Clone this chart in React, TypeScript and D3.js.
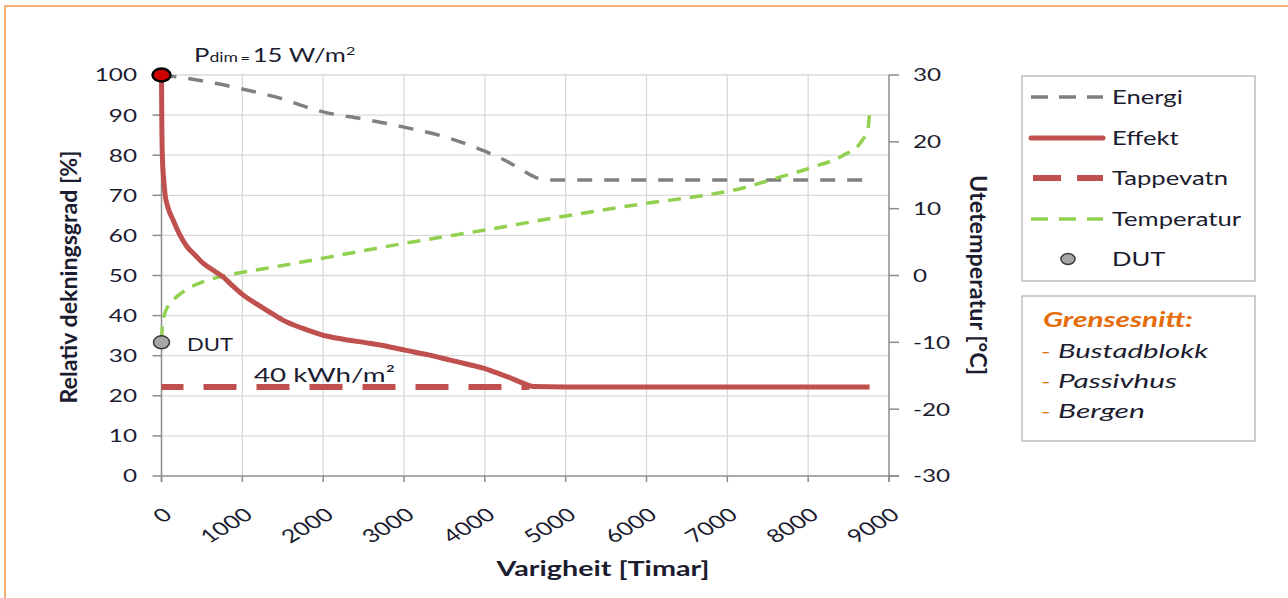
import React from "react";
import * as d3 from "d3";

const W = 1288;
const H = 598;

// ---- data ----
const xTicks = [0, 1000, 2000, 3000, 4000, 5000, 6000, 7000, 8000, 9000];
const yLeftTicks = [0, 10, 20, 30, 40, 50, 60, 70, 80, 90, 100];
const yRightTicks = [-30, -20, -10, 0, 10, 20, 30];

const energiHours = [0, 300, 700, 1000, 1400, 2000, 2500, 3000, 3500, 4000, 4300, 4500, 4650, 4800, 6000, 8760];
const energiPct = [100, 99.2, 97.8, 96.5, 94.6, 90.8, 89, 87, 84.6, 81, 78.2, 75.8, 74.3, 73.8, 73.8, 73.8];

const effektHours = [0, 4, 12, 25, 43, 80, 146, 230, 312, 420, 517, 640, 765, 870, 1000, 1200, 1400, 1550, 1750, 2000, 2250, 2540, 2800, 3010, 3300, 3570, 3800, 3980, 4150, 4300, 4480, 4600, 5000, 6000, 7000, 8000, 8760];
const effektPct = [100, 88, 79, 74.5, 70.4, 67, 63.7, 60, 57.3, 55, 53, 51.3, 49.6, 47.6, 45.3, 42.6, 40.1, 38.4, 36.8, 35.1, 34.1, 33.2, 32.3, 31.4, 30.2, 28.9, 27.8, 26.9, 25.7, 24.6, 23.1, 22.3, 22.2, 22.2, 22.2, 22.2, 22.2];

const tappevatnHours = [0, 4550];
const tappevatnPct = [22.2, 22.2];

const tempHours = [0, 15, 43, 80, 142, 250, 350, 500, 720, 970, 1500, 2000, 3000, 4000, 5000, 6000, 6665, 7197, 7614, 8026, 8435, 8643, 8744, 8760];
const tempC = [-9.6, -7.1, -5.6, -4.6, -3.7, -2.6, -1.8, -1.0, -0.2, 0.4, 1.5, 2.6, 4.8, 6.8, 8.9, 10.8, 11.9, 13.1, 14.6, 16.1, 18.0, 19.8, 22.3, 24.5];

const dutHour = 0;
const dutTemp = -10;
const pdimHour = 0;
const pdimPct = 100;

const legendItems = ["Energi", "Effekt", "Tappevatn", "Temperatur", "DUT"];
const noteTitle = "Grensesnitt:";
const notes = ["Bustadblokk", "Passivhus", "Bergen"];

// ---- style ----
const SX = 1.35;
const FONT = "Lato, 'Open Sans', sans-serif";
const TXT = "#1c1c30";
const RED = "#c0504d";
const GRAY = "#808080";
const GREEN = "#92d050";
const ORANGE = "#e46c0a";
const GRID = "#d9d9d9";
const AXIS = "#8c8c8c";

const plot = { left: 161.5, right: 889, top: 75, bottom: 476 };

function T(props: {
  x: number; y: number; size?: number; anchor?: string; weight?: any; italic?: boolean;
  fill?: string; rotate?: number; children: any; dy?: string; len?: number; sx?: number;
}) {
  const { x, y, size = 18, anchor = "start", weight = "normal", italic = false, fill = TXT, rotate, children, dy, len } = props;
  const sx = props.sx ?? SX;
  return (
    <text
      transform={`translate(${x},${y}) scale(${sx},1)${rotate !== undefined ? ` rotate(${rotate})` : ""}`}
      fontFamily={FONT}
      fontSize={size}
      textAnchor={anchor}
      fontWeight={weight}
      fontStyle={italic ? "italic" : "normal"}
      fill={fill}
      dy={dy}
      textLength={len !== undefined ? len / sx : undefined}
      lengthAdjust={len !== undefined ? "spacingAndGlyphs" : undefined}
    >
      {children}
    </text>
  );
}

export default function App() {
  const x = d3.scaleLinear().domain([0, 9000]).range([plot.left, plot.right]);
  const yL = d3.scaleLinear().domain([0, 100]).range([plot.bottom, plot.top]);
  const yR = d3.scaleLinear().domain([-30, 30]).range([plot.bottom, plot.top]);

  const lineL = d3
    .line<[number, number]>()
    .x((d) => x(d[0]))
    .y((d) => yL(d[1]))
    .curve(d3.curveMonotoneX);
  const lineR = d3
    .line<[number, number]>()
    .x((d) => x(d[0]))
    .y((d) => yR(d[1]))
    .curve(d3.curveMonotoneX);

  const zip = (a: number[], b: number[]) => a.map((v, i) => [v, b[i]] as [number, number]);

  const legX0 = 1031;
  const legX1 = 1103;
  const legY = [97, 138, 178, 219, 259];
  const noteLens = [150, 119, 87];

  return (
    <div style={{ position: "fixed", left: 0, top: 0, width: W, height: H, background: "#fff" }}>
      <svg width={W} height={H} viewBox={`0 0 ${W} ${H}`} style={{ display: "block" }}>
        <rect x={0} y={0} width={W} height={H} fill="#fff" />
        {/* orange frame */}
        <path d={`M5,${H} L5,6 L${W},6`} fill="none" stroke="#f9ae72" strokeWidth={2} />

        {/* grid */}
        {yLeftTicks.filter((t) => t > 0).map((t) => (
          <line key={"gy" + t} x1={plot.left} x2={plot.right} y1={yL(t)} y2={yL(t)} stroke={GRID} strokeWidth={1.3} />
        ))}
        {xTicks.filter((t) => t > 0 && t < 9000).map((t) => (
          <line key={"gx" + t} x1={x(t)} x2={x(t)} y1={plot.top} y2={plot.bottom} stroke={GRID} strokeWidth={1.3} />
        ))}

        {/* axes */}
        <line x1={plot.left} x2={plot.left} y1={plot.top} y2={plot.bottom + 6} stroke={AXIS} strokeWidth={1.5} />
        <line x1={plot.right} x2={plot.right} y1={plot.top} y2={plot.bottom + 6} stroke={AXIS} strokeWidth={1.5} />
        <line x1={plot.left} x2={plot.right + 10} y1={plot.bottom} y2={plot.bottom} stroke={AXIS} strokeWidth={1.5} />
        {yLeftTicks.map((t) => (
          <line key={"tl" + t} x1={plot.left - 9} x2={plot.left} y1={yL(t)} y2={yL(t)} stroke={AXIS} strokeWidth={1.5} />
        ))}
        {yRightTicks.map((t) => (
          <line key={"tr" + t} x1={plot.right} x2={plot.right + 10} y1={yR(t)} y2={yR(t)} stroke={AXIS} strokeWidth={1.5} />
        ))}
        {xTicks.map((t) => (
          <line key={"tx" + t} x1={x(t)} x2={x(t)} y1={plot.bottom} y2={plot.bottom + 6} stroke={AXIS} strokeWidth={1.5} />
        ))}

        {/* tick labels */}
        {yLeftTicks.map((t) => (
          <T key={"ll" + t} x={137} y={yL(t)} anchor="end" dy="0.36em">{t}</T>
        ))}
        {yRightTicks.map((t) => (
          <T key={"rl" + t} x={913} y={yR(t)} anchor="start" dy="0.36em">{t}</T>
        ))}
        {xTicks.map((t) => (
          <T key={"xl" + t} x={x(t) + 1} y={507} anchor="end" rotate={-39} dy="0.7em" size={18.5}>{t}</T>
        ))}

        {/* axis titles */}
        <T x={77} y={277} anchor="middle" weight="bold" size={22} rotate={-90} sx={1} len={253}>Relativ dekningsgrad [%]</T>
        <T x={970} y={275} anchor="middle" weight="bold" size={22} rotate={90} sx={1} len={200}>Utetemperatur [°C]</T>
        <T x={603} y={576} anchor="middle" weight="bold" size={20} len={213}>Varigheit [Timar]</T>

        {/* series */}
        <path d={lineL(zip(energiHours, energiPct)) || ""} fill="none" stroke={GRAY} strokeWidth={3.5} strokeDasharray="15,12" />
        <path d={lineR(zip(tempHours, tempC)) || ""} fill="none" stroke={GREEN} strokeWidth={3.5} strokeDasharray="13,9" />
        <path d={lineL(zip(tappevatnHours, tappevatnPct)) || ""} fill="none" stroke={RED} strokeWidth={6} strokeDasharray="33,20" strokeDashoffset={11} />
        <path d={lineL(zip(effektHours, effektPct)) || ""} fill="none" stroke={RED} strokeWidth={5} strokeLinejoin="round" />

        {/* markers */}
        <ellipse cx={x(dutHour)} cy={yR(dutTemp)} rx={8} ry={6.5} fill="#a6a6a6" stroke="#3a3a3a" strokeWidth={1.5} />
        <ellipse cx={x(pdimHour)} cy={yL(pdimPct)} rx={9} ry={6.5} fill="#d00000" stroke="#000" strokeWidth={2.5} />

        {/* annotations */}
        <T x={187} y={351} size={18} len={46}>DUT</T>
        <T x={254} y={382} size={20} len={141}>40 kWh/m²</T>
        <text transform={`translate(194,62) scale(${SX},1)`} fontFamily={FONT} fill={TXT}>
          <tspan fontSize={19}>P</tspan>
          <tspan fontSize={13}>dim</tspan>
          <tspan fontSize={12} dx={2}>=</tspan>
          <tspan fontSize={19} dx={2}>15 W/m</tspan>
          <tspan fontSize={12} dy={-7}>2</tspan>
        </text>

        {/* legend */}
        <rect x={1022} y={76} width={233} height={205} fill="#fff" stroke="#bfbfbf" strokeWidth={1.5} />
        <line x1={legX0} x2={legX1} y1={legY[0]} y2={legY[0]} stroke={GRAY} strokeWidth={3.5} strokeDasharray="17,11" />
        <line x1={legX0} x2={legX1} y1={legY[1]} y2={legY[1]} stroke={RED} strokeWidth={5} strokeLinecap="round" />
        <line x1={legX0 + 2} x2={legX1} y1={legY[2]} y2={legY[2]} stroke={RED} strokeWidth={6} strokeDasharray="28,16" strokeLinecap="butt" />
        <line x1={legX0} x2={legX1} y1={legY[3]} y2={legY[3]} stroke={GREEN} strokeWidth={3.5} strokeDasharray="17,11" />
        <ellipse cx={1068} cy={legY[4]} rx={7} ry={5.5} fill="#a6a6a6" stroke="#3a3a3a" strokeWidth={1.5} />
        {legendItems.map((s, i) => (
          <T key={s} x={1112} y={legY[i]} dy="0.36em" size={19}>{s}</T>
        ))}

        <rect x={1022} y={296} width={233} height={145} fill="#fff" stroke="#bfbfbf" strokeWidth={1.5} />
        <T x={1043} y={327} size={20} weight="bold" italic fill={ORANGE} len={150}>{noteTitle}</T>
        {notes.map((n, i) => (
          <g key={n}>
            <T x={1041} y={358 + i * 30} size={20} italic fill={ORANGE}>-</T>
            <T x={1058} y={358 + i * 30} size={20} italic len={noteLens[i]}>{n}</T>
          </g>
        ))}
      </svg>
    </div>
  );
}
